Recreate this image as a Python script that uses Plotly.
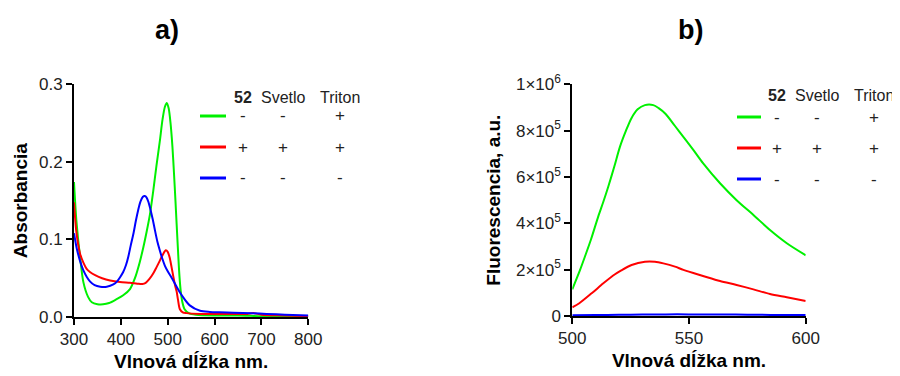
import plotly.graph_objects as go

# ---------- panel a) absorbance ----------
abs_green_x = [300, 305, 312.8, 320, 330, 338, 350, 362, 375, 391, 405, 419.5, 430, 440, 448, 455, 462, 469, 476, 483, 489, 494, 498, 502, 506, 510, 513.4, 516.5, 519, 522, 525, 528, 531, 536, 545, 560, 600, 650, 700, 750, 800]
abs_green_y = [0.174, 0.125, 0.078, 0.045, 0.026, 0.019, 0.0165, 0.0163, 0.018, 0.023, 0.028, 0.036, 0.05, 0.07, 0.09, 0.11, 0.132, 0.162, 0.195, 0.226, 0.255, 0.271, 0.276, 0.269, 0.25, 0.22, 0.185, 0.15, 0.12, 0.085, 0.053, 0.032, 0.02, 0.01, 0.005, 0.003, 0.002, 0.002, 0.001, 0.001, 0.0005]

abs_red_x = [300, 305, 312.8, 320, 327, 334, 345, 360, 377, 398, 419.5, 435, 446, 453, 461, 469, 476, 483.5, 490, 496, 500, 504, 508, 512, 516, 519, 522, 526, 532, 540, 570, 640, 670, 683, 700, 750, 800]
abs_red_y = [0.148, 0.11, 0.082, 0.07, 0.062, 0.058, 0.054, 0.05, 0.047, 0.045, 0.044, 0.043, 0.0425, 0.044, 0.049, 0.056, 0.064, 0.073, 0.081, 0.086, 0.084, 0.077, 0.065, 0.052, 0.04, 0.033, 0.022, 0.01, 0.006, 0.005, 0.004, 0.004, 0.004, 0.005, 0.003, 0.002, 0.001]

abs_blue_x = [300, 306, 313, 320, 327, 334, 344, 356, 370, 384, 392, 398, 405, 411, 416, 421, 427, 432, 437, 442, 447, 451, 455, 459, 463, 468, 473, 478, 483, 488, 494, 500, 508, 519, 530, 547, 569, 590, 610, 640, 680, 711, 750, 800]
abs_blue_y = [0.108, 0.088, 0.072, 0.06, 0.052, 0.046, 0.041, 0.039, 0.039, 0.042, 0.046, 0.051, 0.058, 0.067, 0.078, 0.092, 0.108, 0.124, 0.138, 0.149, 0.155, 0.156, 0.154, 0.148, 0.139, 0.126, 0.111, 0.097, 0.086, 0.076, 0.066, 0.059, 0.051, 0.039, 0.028, 0.015, 0.008, 0.0065, 0.006, 0.0055, 0.0048, 0.004, 0.003, 0.002]

# ---------- panel b) fluorescence ----------
fl_green_x = [500, 503, 505.4, 508, 511.1, 513.3, 515.4, 518, 520.4, 523, 525.4, 528, 531.1, 534.7, 537, 540, 544, 548, 552, 556, 563.3, 570.4, 577.6, 584.7, 591.9, 600]
fl_green_y = [115000, 190000, 256000, 330000, 429000, 493000, 558000, 645000, 730000, 800000, 855000, 892000, 910000, 910000, 897000, 872000, 820000, 768000, 715000, 660000, 573000, 500000, 436000, 371000, 314000, 262000]

fl_red_x = [500, 503, 508.3, 513.3, 518.3, 521, 525.4, 531.1, 535.4, 539, 544, 547.6, 556, 563.3, 570.4, 577.6, 584.7, 591.9, 600]
fl_red_y = [37500, 55000, 98000, 141000, 180000, 197000, 220000, 234000, 234000, 227000, 213000, 199000, 173000, 151000, 134000, 115000, 95000, 81000, 65000]

fl_blue_x = [500, 510, 520, 530, 540, 550, 560, 570, 580, 590, 600]
fl_blue_y = [3000, 4000, 5000, 6000, 7000, 7000, 6500, 6000, 5000, 4500, 4000]

fl_tickvals = [0, 200000, 400000, 600000, 800000, 1000000]
fl_ticktext = ["0", "2×10<sup>5</sup>", "4×10<sup>5</sup>", "6×10<sup>5</sup>", "8×10<sup>5</sup>", "1×10<sup>6</sup>"]

legend_header = ["52", "Svetlo", "Triton"]
legend_rows = [["-", "-", "+"], ["+", "+", "+"], ["-", "-", "-"]]
colors = ["#00f000", "#ff0000", "#0000ff"]

FONT = "Liberation Sans, Arial, sans-serif"

# page body has an 8px margin: figure is placed at (8, 8)
OFF = 8
W, H = 900 - OFF, 376 - OFF


def px(x):
    return (x - OFF) / W


def py(y):
    return 1 - (y - OFF) / H


fig = go.Figure()
for xs, ys, c in [(abs_green_x, abs_green_y, colors[0]),
                  (abs_red_x, abs_red_y, colors[1]),
                  (abs_blue_x, abs_blue_y, colors[2])]:
    fig.add_trace(go.Scatter(x=xs, y=ys, mode="lines", line=dict(color=c, width=2, shape="spline", smoothing=0.8),
                             xaxis="x", yaxis="y", showlegend=False, hoverinfo="skip"))
for xs, ys, c in [(fl_green_x, fl_green_y, colors[0]),
                  (fl_red_x, fl_red_y, colors[1]),
                  (fl_blue_x, fl_blue_y, colors[2])]:
    fig.add_trace(go.Scatter(x=xs, y=ys, mode="lines", line=dict(color=c, width=2, shape="spline", smoothing=0.8),
                             xaxis="x2", yaxis="y2", showlegend=False, hoverinfo="skip"))

axis_common = dict(showline=True, linecolor="black", linewidth=2, ticks="outside", ticklen=6, tickwidth=2,
                   tickcolor="black", showgrid=False, zeroline=False, mirror=False, automargin=False,
                   tickfont=dict(family=FONT, size=17, color="#222"))
title_font = dict(family=FONT, size=19, color="black", weight="bold")

fig.update_layout(
    width=W, height=H, margin=dict(l=0, r=0, t=0, b=0),
    paper_bgcolor="white", plot_bgcolor="white",
    xaxis=dict(domain=[px(74), px(308.3)], range=[300, 800], tickvals=[300, 400, 500, 600, 700, 800],
               anchor="y", title=dict(text="Vlnová dĺžka nm.", font=title_font, standoff=6), **axis_common),
    yaxis=dict(domain=[py(317), py(84.3)], range=[0, 0.3], tickvals=[0, 0.1, 0.2, 0.3], ticktext=["0.0", "0.1", "0.2", "0.3"],
               anchor="x", title=dict(text="Absorbancia", font=title_font, standoff=6), **axis_common),
    xaxis2=dict(domain=[px(572.3), px(805.7)], range=[500, 600], tickvals=[500, 550, 600],
                anchor="y2", title=dict(text="Vlnová dĺžka nm.", font=title_font, standoff=6), **axis_common),
    yaxis2=dict(domain=[py(316), py(84.3)], range=[0, 1000000], tickvals=fl_tickvals, ticktext=fl_ticktext,
                anchor="x2", title=dict(text="Fluorescencia, a.u.", font=title_font, standoff=10), **axis_common),
)

# panel titles
for txt, xc in [("a)", 167), ("b)", 690)]:
    fig.add_annotation(text=txt, x=px(xc), y=py(30), xref="paper", yref="paper", showarrow=False,
                       xanchor="center", yanchor="middle",
                       font=dict(family=FONT, size=27, color="black", weight="bold"))


# legend tables
def add_table(line_x0, line_x1, col_x, header_y, row_y):
    for i, h in enumerate(legend_header):
        fig.add_annotation(text=("<b>%s</b>" % h) if i == 0 else h, x=px(col_x[i]), y=py(header_y),
                           xref="paper", yref="paper", showarrow=False, xanchor="center", yanchor="middle",
                           font=dict(family=FONT, size=16, color="#222"))
    for r, row in enumerate(legend_rows):
        fig.add_shape(type="line", xref="paper", yref="paper", x0=px(line_x0), x1=px(line_x1),
                      y0=py(row_y[r]), y1=py(row_y[r]), line=dict(color=colors[r], width=3))
        for i, s in enumerate(row):
            fig.add_annotation(text=s, x=px(col_x[i]), y=py(row_y[r]), xref="paper", yref="paper",
                               showarrow=False, xanchor="center", yanchor="middle",
                               font=dict(family=FONT, size=17, color="#222"))


add_table(200, 226, [243, 283, 340], 97, [116, 147, 178])
add_table(737, 761, [777, 817, 874], 96, [117, 148, 179])

fig.write_html("out.html")
